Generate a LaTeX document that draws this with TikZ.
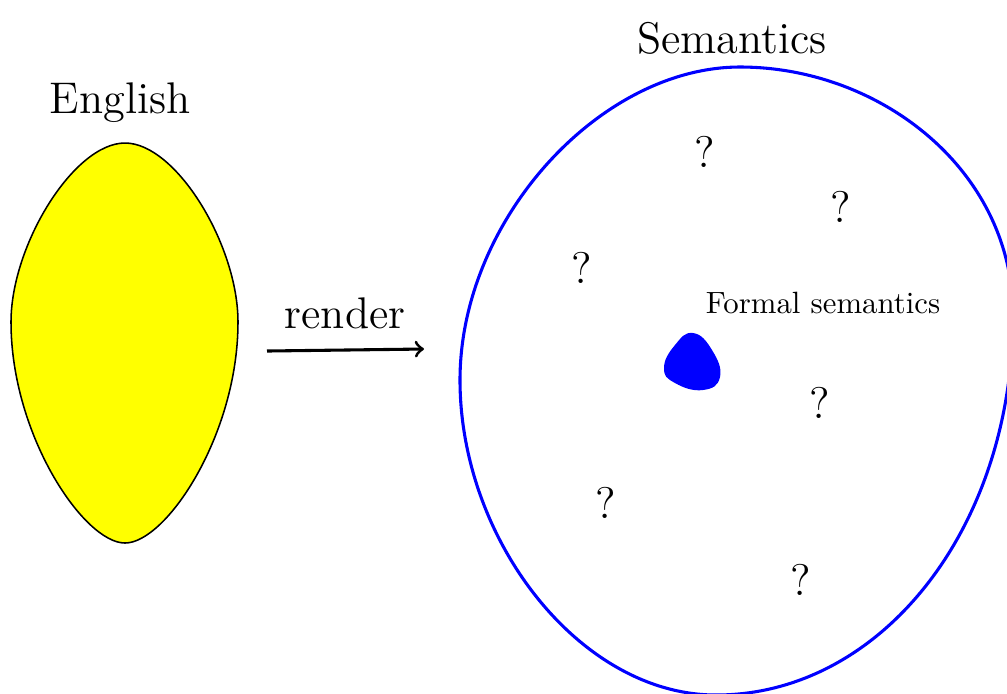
\documentclass[tikz,border=0pt]{standalone}
\usepackage{tikz}
\definecolor{engyellow}{RGB}{255,255,0}

\begin{document}
\begin{tikzpicture}[x=1.142mm, y=-1.142mm,
    lbl/.style={anchor=base, font=\Large, inner sep=0pt},
    qm/.style={anchor=base, font=\Large, inner sep=0pt}]
  \useasboundingbox (0,0) rectangle (100.7,69.3);
  % English
  \draw[fill=engyellow, line width=0.5pt] (12.5,14.3)
    .. controls (17.6,14.3) and (23.8,24.5) .. (23.8,32.2)
    .. controls (23.8,43.5) and (16.6,54.3) .. (12.5,54.3)
    .. controls (8.4,54.3) and (1.1,43.5) .. (1.1,32.2)
    .. controls (1.1,24.5) and (7.4,14.3) .. (12.5,14.3);
  \node[lbl] (english) at (12.0,11.3) {English};
  % Semantics
  \begin{scope}
    \clip (0,0) rectangle (100.7,69.3);
    \draw[blue, line width=1pt] (74.0,6.7)
      .. controls (88.0,6.7) and (101.3,17.0) .. (101.3,31.5)
      .. controls (101.3,53.0) and (88.0,69.5) .. (71.6,69.5)
      .. controls (58.0,69.5) and (46.0,54.0) .. (46.0,38.0)
      .. controls (46.0,22.0) and (60.0,6.7) .. (74.0,6.7);
  \end{scope}
  \node[lbl] (semantics) at (73.2,5.3) {Semantics};
  \fill[blue] plot[smooth cycle, tension=0.8] coordinates
    {(69.3,33.3) (71.2,35.0) (72.0,37.7) (70.3,39.0) (67.5,38.3)
     (66.4,36.8) (67.5,34.5)};
  \node[anchor=base, inner sep=0pt] (formal) at (82.3,31.3) {Formal semantics};
  \node[qm] (q1) at (70.5,16.7) {?};
  \node[qm] (q2) at (84.1,22.2) {?};
  \node[qm] (q3) at (58.2,28.3) {?};
  \node[qm] (q4) at (82.0,41.8) {?};
  \node[qm] (q5) at (60.6,51.8) {?};
  \node[qm] (q6) at (80.1,59.5) {?};
  % render
  \coordinate (renderL) at (26.7,35.1);
  \coordinate (renderR) at (42.4,34.9);
  \draw[->, line width=1pt] (renderL) -- (renderR);
  \node[lbl] (render) at (34.5,32.8) {render};
\end{tikzpicture}
\end{document}
